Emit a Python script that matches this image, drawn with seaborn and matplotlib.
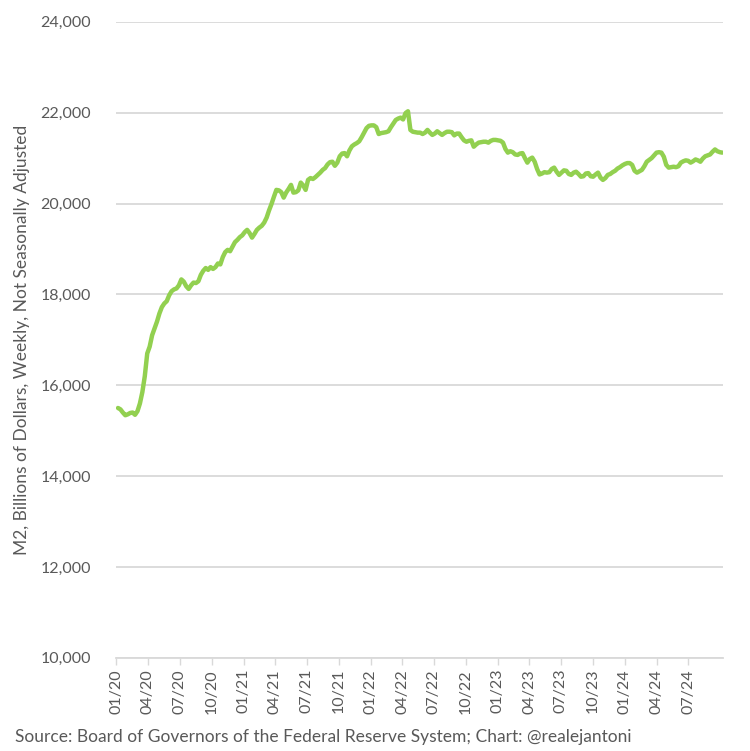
import matplotlib
matplotlib.use("Agg")
import matplotlib.pyplot as plt
import matplotlib.dates as mdates
import matplotlib.ticker as mticker
import seaborn as sns
import pandas as pd

# Weekly M2 (billions of dollars, not seasonally adjusted), first week 2020-01-06
start_week = "2020-01-06"
m2_2020 = [15500, 15470, 15400, 15340, 15360, 15390, 15400, 15350, 15430, 15600,
           15850, 16200, 16700, 16850, 17100, 17250, 17400, 17580, 17720, 17800,
           17850, 17980, 18070, 18110, 18130, 18200, 18330, 18280, 18180, 18120,
           18200, 18260, 18250, 18290, 18430, 18520, 18580, 18540, 18600, 18560,
           18600, 18680, 18660, 18820, 18930, 18980, 18950, 19050, 19150, 19200,
           19260, 19300]
m2_2021 = [19370, 19420, 19350, 19250, 19330, 19420, 19470, 19510, 19580, 19690,
           19850, 19990, 20150, 20300, 20290, 20250, 20130, 20240, 20320, 20410,
           20240, 20250, 20290, 20460, 20400, 20300, 20520, 20560, 20540, 20580,
           20630, 20680, 20740, 20780, 20860, 20910, 20920, 20830, 20900, 21040,
           21100, 21110, 21040, 21170, 21260, 21300, 21330, 21370, 21460, 21560,
           21660, 21710]
m2_2022 = [21720, 21720, 21680, 21530, 21550, 21560, 21570, 21590, 21680, 21760,
           21840, 21870, 21890, 21850, 21990, 22030, 21620, 21580, 21570, 21560,
           21560, 21530, 21560, 21620, 21560, 21510, 21540, 21590, 21550, 21510,
           21550, 21580, 21580, 21570, 21500, 21540, 21540, 21460, 21390, 21360,
           21380, 21390, 21250, 21300, 21340, 21350, 21360, 21360, 21340, 21380,
           21400, 21400]
m2_2023 = [21390, 21380, 21340, 21200, 21120, 21150, 21130, 21080, 21070, 21100,
           21110, 21000, 20900, 20980, 21010, 20920, 20760, 20640, 20660, 20690,
           20680, 20690, 20760, 20790, 20700, 20630, 20680, 20730, 20720, 20650,
           20630, 20680, 20700, 20650, 20590, 20600, 20660, 20670, 20600, 20590,
           20640, 20680, 20570, 20520, 20560, 20630, 20650, 20690, 20720, 20770,
           20800, 20840]
m2_2024 = [20870, 20890, 20890, 20850, 20720, 20680, 20710, 20740, 20820, 20920,
           20960, 21000, 21060, 21120, 21130, 21120, 21030, 20850, 20790, 20800,
           20810, 20800, 20820, 20900, 20930, 20950, 20940, 20900, 20930, 20970,
           20950, 20920, 20990, 21040, 21060, 21080, 21140, 21190, 21150, 21130,
           21120]

m2_values = m2_2020 + m2_2021 + m2_2022 + m2_2023 + m2_2024
weeks = pd.date_range(start_week, periods=len(m2_values), freq="W-MON")
df = pd.DataFrame({"week": weeks, "m2": m2_values})

# quarterly tick marks, 01/20 through 07/24
tick_months = pd.date_range("2020-01-01", "2024-07-01", freq="QS")

y_label = "M2, Billions of Dollars, Weekly, Not Seasonally Adjusted"
source_note = "Source: Board of Governors of the Federal Reserve System; Chart: @realejantoni"

sns.set_theme(style="white")
plt.rcParams["font.family"] = ["Lato", "DejaVu Sans"]

text_grey = "#595959"
grid_grey = "#d9d9d9"

fig = plt.figure(figsize=(7.5, 7.51), dpi=100)
ax = fig.add_axes([0.155, 0.124, 0.809, 0.847])

sns.lineplot(data=df, x="week", y="m2", ax=ax, color="#92d050", linewidth=3.2)

ax.set_ylim(10000, 24000)
ax.set_xlim(pd.Timestamp("2020-01-01"), weeks[-1] + pd.Timedelta(days=2))
ax.yaxis.set_major_locator(mticker.MultipleLocator(2000))
ax.yaxis.set_major_formatter(mticker.StrMethodFormatter("{x:,.0f}"))
ax.grid(axis="y", color=grid_grey, linewidth=1.3)
ax.set_axisbelow(True)

ax.set_xticks(tick_months)
ax.xaxis.set_major_formatter(mdates.DateFormatter("%m/%y"))
plt.setp(ax.get_xticklabels(), rotation=90)

for side in ["top", "right", "left"]:
    ax.spines[side].set_visible(False)
ax.spines["bottom"].set_color(grid_grey)
ax.spines["bottom"].set_linewidth(1.3)

ax.tick_params(axis="x", bottom=True, length=5, width=1, color=grid_grey,
               labelsize=11.5, labelcolor=text_grey, pad=3)
ax.tick_params(axis="y", left=False, labelsize=11.5, labelcolor=text_grey, pad=12)

ax.set_xlabel("")
ax.set_ylabel(y_label, fontsize=12.5, color=text_grey, labelpad=8)

fig.text(0.02, 0.008, source_note, fontsize=12.5, color=text_grey, ha="left", va="bottom")

fig.savefig("out.png", dpi=100)
